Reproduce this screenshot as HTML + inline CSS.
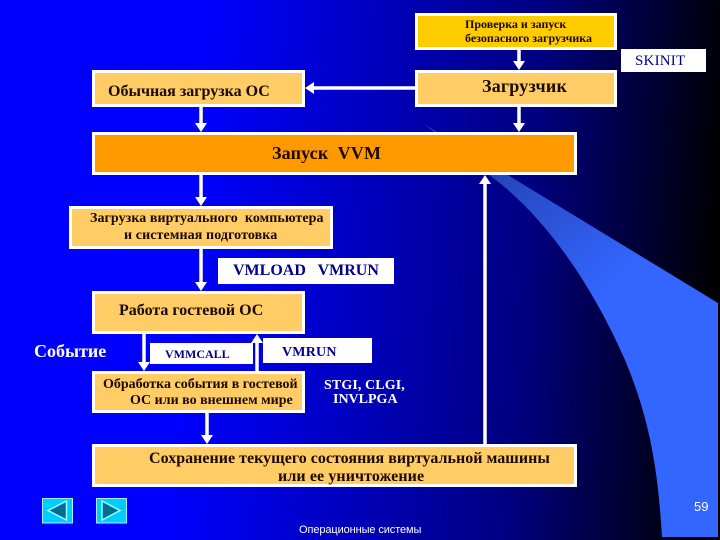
<!DOCTYPE html>
<html><head><meta charset="utf-8"><style>
html,body{margin:0;padding:0}
#s{position:relative;width:720px;height:540px;overflow:hidden;background:linear-gradient(94deg,#0000ff 0%,#0000ff 27%,#000080 72%,#000 97%);font-family:"Liberation Serif","Noto Serif CJK SC",serif;}
svg{position:absolute;left:0;top:0}
.b{position:absolute;box-sizing:border-box;border:3px solid #fff;background:#ffcc66}
.w{position:absolute;background:#fff}
.t{position:absolute;white-space:pre;font-weight:bold;color:#1a0a00;line-height:1}
.n{color:#00008c}
.l{color:#fff}
</style></head><body><div id="s">
<svg width="720" height="540" viewBox="0 0 720 540">
<defs><linearGradient id="g" gradientUnits="userSpaceOnUse" x1="470" y1="140" x2="610" y2="290">
<stop offset="0" stop-color="#223ca8"/><stop offset="1" stop-color="#3366ff"/></linearGradient></defs>
<path d="M424 124 L718 303 L718 537 L662 537 C658 470 650 420 625 360 C590 280 540 210 485 172 Z" fill="url(#g)"/>
<g stroke="#fff" stroke-width="3.5" fill="none">
<path d="M519 50V62M519 107V124M313 88H415M201 107V124M201 175V198M201 249V283M144 334V363M257 371V342M207 413V436M485 444V184"/>
</g>
<g fill="#fff">
<path d="M513 61H525L519 70ZM513 123H525L519 132ZM195 123H207L201 132ZM195 197H207L201 206ZM195 282H207L201 291ZM138 362H150L144 371ZM201 435H213L207 444Z"/>
<path d="M305 88L314 82V94ZM257 334L251 343H263ZM485 175L479 184H491Z"/>
</g>
</svg>
<div class="b" style="left:415px;top:13px;width:202px;height:37px;background:#ffcc00"></div>
<div class="w" style="left:621px;top:49px;width:85px;height:23px"></div>
<div class="b" style="left:415px;top:70px;width:202px;height:37px"></div>
<div class="b" style="left:92px;top:70px;width:213px;height:37px"></div>
<div class="b" style="left:92px;top:132px;width:485px;height:43px;background:#ff9900"></div>
<div class="b" style="left:69px;top:206px;width:264px;height:43px"></div>
<div class="w" style="left:218px;top:258px;width:176px;height:26px"></div>
<div class="b" style="left:92px;top:291px;width:213px;height:43px"></div>
<div class="w" style="left:150px;top:343px;width:103px;height:21px"></div>
<div class="w" style="left:263px;top:338px;width:109px;height:25px"></div>
<div class="b" style="left:92px;top:371px;width:213px;height:42px"></div>
<div class="b" style="left:92px;top:444px;width:485px;height:43px"></div>

<div class="t" style="left:465px;top:18px;font-size:12px">Проверка и запуск</div>
<div class="t" style="left:465px;top:32px;font-size:12px">безопасного загрузчика</div>
<div class="t n" style="left:635px;top:54px;font-size:15px;font-weight:normal;letter-spacing:.2px">SKINIT</div>
<div class="t" style="left:482px;top:77px;font-size:18px;letter-spacing:.2px">Загрузчик</div>
<div class="t" style="left:108px;top:84px;font-size:16px">Обычная загрузка ОС</div>
<div class="t" style="left:272px;top:144px;font-size:18px;letter-spacing:.15px">Запуск  VVM</div>
<div class="t" style="left:90px;top:212px;font-size:14px;letter-spacing:.06px">Загрузка виртуального  компьютера</div>
<div class="t" style="left:124px;top:229px;font-size:14px;letter-spacing:.1px">и системная подготовка</div>
<div class="t n" style="left:233px;top:263px;font-size:16px">VMLOAD   VMRUN</div>
<div class="t" style="left:119px;top:303px;font-size:16px">Работа гостевой ОС</div>
<div class="t l" style="left:34px;top:342px;font-size:18px">Событие</div>
<div class="t n" style="left:165px;top:348px;font-size:12px">VMMCALL</div>
<div class="t n" style="left:282px;top:346px;font-size:14px;letter-spacing:.2px">VMRUN</div>
<div class="t" style="left:103px;top:378px;font-size:14px">Обработка события в гостевой</div>
<div class="t" style="left:130px;top:394px;font-size:14px">ОС или во внешнем мире</div>
<div class="t l" style="left:324px;top:379px;font-size:14px;letter-spacing:.1px">STGI, CLGI,</div>
<div class="t l" style="left:333px;top:393px;font-size:14px">INVLPGA</div>
<div class="t" style="left:149px;top:451px;font-size:16px;letter-spacing:.02px">Сохранение текущего состояния виртуальной машины</div>
<div class="t" style="left:278px;top:469px;font-size:16px;letter-spacing:.1px">или ее уничтожение</div>
<div class="t l" style="left:694px;top:500px;font-size:13px;font-weight:normal;font-family:'Liberation Sans',sans-serif">59</div>
<div class="t l" style="left:299px;top:525px;font-size:11px;font-weight:normal;font-family:'Liberation Sans',sans-serif;letter-spacing:-.1px">Операционные системы</div>

<svg width="720" height="540" viewBox="0 0 720 540">
<rect x="42.500" y="498.500" width="30" height="24.500" fill="#00ccff" stroke="#a8efff"/>
<path d="M48 510.500L66.500 501V520Z" fill="#006e94" stroke="#99ffff" stroke-width="1.500"/>
<rect x="96.500" y="498.500" width="30" height="24.500" fill="#00ccff" stroke="#a8efff"/>
<path d="M120 510.500L102 501V520Z" fill="#006e94" stroke="#99ffff" stroke-width="1.500"/>
</svg>
</div></body></html>
